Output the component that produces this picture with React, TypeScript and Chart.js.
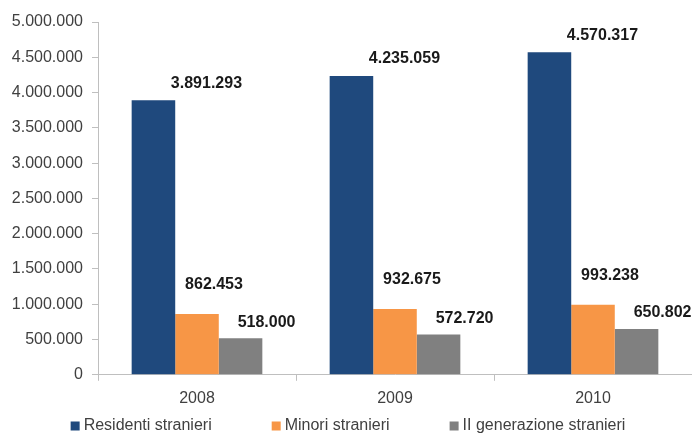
import React, { useEffect, useRef } from "react";
import { Chart, registerables } from "chart.js";

Chart.register(...registerables);

const categories = ["2008", "2009", "2010"];
const residenti = [3891293, 4235059, 4570317];
const minori = [862453, 932675, 993238];
const secondaGen = [518000, 572720, 650802];
const seriesNames = ["Residenti stranieri", "Minori stranieri", "II generazione stranieri"];
const seriesColors = ["#1F497D", "#F79646", "#808080"];
const yTickStep = 500000;
const yMax = 5000000;

const fmt = (v: number) => String(Math.round(v)).replace(/\B(?=(\d{3})+(?!\d))/g, ".");

const FONT = "'Liberation Sans', Arial, sans-serif";

const labelOffsets = [
  { dx: 53, dy: -17 },
  { dx: 17, dy: -29 },
  { dx: 26, dy: -16 },
];

const valueLabels = {
  id: "valueLabels",
  afterDatasetsDraw(chart: any) {
    const ctx = chart.ctx;
    ctx.save();
    ctx.font = `bold 16px ${FONT}`;
    ctx.fillStyle = "#1a1a1a";
    ctx.textAlign = "center";
    ctx.textBaseline = "middle";
    chart.data.datasets.forEach((ds: any, i: number) => {
      const meta = chart.getDatasetMeta(i);
      const off = labelOffsets[i];
      meta.data.forEach((el: any, j: number) => {
        ctx.fillText(fmt(ds.data[j]), el.x + off.dx, el.y + off.dy);
      });
    });
    ctx.restore();
  },
};

const bottomLegend = {
  id: "bottomLegend",
  afterDraw(chart: any) {
    const ctx = chart.ctx;
    ctx.save();
    ctx.font = `16px ${FONT}`;
    ctx.textBaseline = "middle";
    ctx.textAlign = "left";
    const box = 9;
    const gapText = 4;
    const gapItem = 60;
    const items = chart.data.datasets.map((ds: any) => ({
      label: ds.label,
      color: ds.backgroundColor,
      w: box + gapText + ctx.measureText(ds.label).width,
    }));
    const total = items.reduce((a: number, it: any) => a + it.w, 0) + gapItem * (items.length - 1);
    let x = (chart.width - total) / 2 + 2;
    const y = 426;
    items.forEach((it: any) => {
      ctx.fillStyle = it.color;
      ctx.fillRect(x, y - box / 2, box, box);
      ctx.fillStyle = "#404040";
      ctx.fillText(it.label, x + box + gapText, y);
      x += it.w + gapItem;
    });
    ctx.restore();
  },
};

export default function App() {
  const ref = useRef<HTMLCanvasElement>(null);
  useEffect(() => {
    if (!ref.current) return;
    const chart = new Chart(ref.current, {
      type: "bar",
      data: {
        labels: categories,
        datasets: [
          { label: seriesNames[0], data: residenti, backgroundColor: seriesColors[0] },
          { label: seriesNames[1], data: minori, backgroundColor: seriesColors[1] },
          { label: seriesNames[2], data: secondaGen, backgroundColor: seriesColors[2] },
        ],
      },
      options: {
        animation: false,
        responsive: false,
        maintainAspectRatio: false,
        layout: { padding: { top: 22, right: 0, left: 0, bottom: 21 } },
        datasets: {
          bar: { categoryPercentage: 0.66, barPercentage: 1.0 },
        },
        scales: {
          x: {
            grid: {
              display: true,
              drawOnChartArea: false,
              drawTicks: true,
              tickLength: 6,
              color: "#BFBFBF",
              offset: true,
            },
            border: { color: "#BFBFBF", width: 1 },
            ticks: { font: { family: FONT, size: 16 }, color: "#404040", padding: 8 },
          },
          y: {
            min: 0,
            max: yMax,
            afterFit: (s: any) => {
              s.width = 98;
            },
            grid: {
              display: true,
              drawOnChartArea: false,
              drawTicks: true,
              tickLength: 6,
              color: "#BFBFBF",
            },
            border: { color: "#BFBFBF", width: 1 },
            ticks: {
              stepSize: yTickStep,
              font: { family: FONT, size: 16 },
              color: "#404040",
              padding: 9,
              callback: (v: any) => fmt(Number(v)),
            },
          },
        },
        plugins: {
          legend: { display: false },
          tooltip: { enabled: false },
        },
      },
      plugins: [valueLabels, bottomLegend],
    });
    return () => chart.destroy();
  }, []);
  return (
    <div style={{ position: "absolute", left: 0, top: 0, width: 692, height: 437, background: "#fff" }}>
      <canvas ref={ref} width={692} height={437} style={{ display: "block" }} />
    </div>
  );
}
